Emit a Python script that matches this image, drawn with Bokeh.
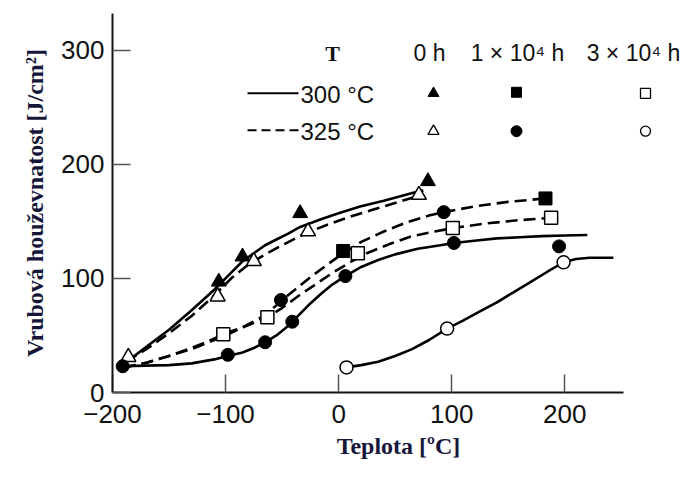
from bokeh.plotting import figure
from bokeh.models import Label, FixedTicker
from bokeh.embed import file_html
from bokeh.resources import INLINE

# ---------------- data ----------------
# fitted curves
curve_a_x = [-190, -170, -150, -130, -110, -95, -85, -75, -65, -55, -45, -34, -15, 0, 19, 40, 66, 75]
curve_a_y = [25, 40, 55, 72, 90, 105, 115, 122, 129, 134, 139, 145, 152, 157, 163, 168, 175, 177]
curve_b_x = [-188, -170, -150, -130, -110, -95, -80, -65, -50, -30, -10, 10, 30, 50, 70]
curve_b_y = [27, 38, 52, 67, 85, 100, 112, 121, 129, 139, 147, 154, 160, 166, 172]
curve_c_x = [-190, -170, -150, -130, -110, -100, -85, -70, -60, -51, -40, -25, -10, 4, 20, 40, 60, 80, 93, 120, 150, 183]
curve_c_y = [22, 26, 32, 38, 46, 50, 57, 65, 72, 80, 89, 101, 112, 122, 132, 141, 149, 155, 158, 163, 167, 170]
curve_d_x = [-190, -170, -150, -130, -115, -102, -85, -70, -63, -50, -35, -20, -5, 10, 25, 45, 65, 85, 101, 130, 160, 188]
curve_d_y = [22, 26, 32, 39, 45, 51, 57, 63, 66, 74, 85, 95, 105, 114, 122, 130, 137, 141, 144, 148, 151, 153]
curve_e_x = [-191, -170, -150, -130, -110, -98, -85, -75, -65, -55, -45, -35, -25, -15, -5, 6, 20, 35, 50, 70, 90, 102, 120, 140, 160, 180, 200, 220]
curve_e_y = [23, 23.5, 24, 25.5, 29, 32, 35, 39, 44, 50, 58, 68, 78, 87, 95, 102, 110, 116, 121, 126, 129, 131, 133, 135, 136, 137, 137.5, 138]
curve_f_x = [7, 20, 35, 50, 65, 80, 96, 110, 125, 140, 155, 170, 185, 199, 210, 222, 235, 243]
curve_f_y = [22, 24, 27, 32, 38, 46, 56, 63, 71, 79, 88, 97, 106, 114, 117, 118, 118, 118]

# measured points
tri_fill_x = [-106, -85, -34, 79]
tri_fill_y = [97, 119, 157, 185]
tri_open_x = [-186, -107, -75, -27, 71]
tri_open_y = [31, 84, 115, 141, 173]
sq_fill_x = [4, 183]
sq_fill_y = [124, 170]
sq_open_x = [-102, -63, 17, 101, 188]
sq_open_y = [51, 66, 122, 144, 153]
circ_fill_x = [-191, -98, -65, -41, 6, 102, 195, -51, 93]
circ_fill_y = [23, 33, 44, 62, 102, 131, 128, 81, 158]
circ_open_x = [7, 96, 199]
circ_open_y = [22, 56, 114]

x_ticks = [-200, -100, 0, 100, 200]
y_ticks = [0, 100, 200, 300]

legend_rows = ["300 \u00b0C", "325 \u00b0C"]
legend_cols = ["0 h", "1 \u00d7 10\u2074 h", "3 \u00d7 10\u2074 h"]

# ---------------- figure ----------------
W, H = 684, 461
FL, FT, FB = 112, 13, 393          # frame left / top / bottom (px)
AX_END = 623                       # end of the drawn x axis (px)
X0, XA = -200, 252                 # data x at frame left / at axis end
Y0, Y1 = 0, 332
KX = (AX_END - FL) / (XA - X0)     # px per data unit
X1 = X0 + (W - FL) / KX
p = figure(width=W, height=H, x_range=(X0, X1), y_range=(Y0, Y1),
           output_backend="svg", toolbar_location=None,
           min_border_left=FL, min_border_right=0,
           min_border_top=FT, min_border_bottom=H - FB)
p.outline_line_color = None
p.grid.visible = False
p.background_fill_color = "white"

def sx(px):  # picture px -> data x
    return X0 + (px - FL) / KX
def sy(py):
    return Y0 + (FB - py) / (FB - FT) * (Y1 - Y0)

for ax in (p.xaxis[0], p.yaxis[0]):
    ax.axis_line_width = 2
    ax.axis_line_color = "#111111"
    ax.major_tick_in = 18
    ax.major_tick_out = 0
    ax.major_tick_line_color = "#555555"
    ax.major_tick_line_width = 1.5
    ax.minor_tick_line_color = None
    ax.major_label_text_font = "Liberation Sans"
    ax.major_label_text_font_size = "26px"
    ax.major_label_text_color = "#111111"
    ax.axis_label_text_font = "Liberation Serif"
    ax.axis_label_text_font_style = "bold"
    ax.axis_label_text_color = "#16163a"

p.xaxis.bounds = (X0, XA)
p.xaxis.ticker = FixedTicker(ticks=x_ticks)
p.yaxis.ticker = FixedTicker(ticks=y_ticks)
p.xaxis.axis_label = "Teplota [\u00baC]"
p.yaxis.axis_label = "Vrubov\u00e1 hou\u017eevnatost [J/cm\u00b2]"
p.xaxis.axis_label_text_font_size = "24px"
p.yaxis.axis_label_text_font_size = "24px"
p.xaxis.major_label_standoff = 12
p.yaxis.major_label_standoff = 8
p.xaxis.axis_label_standoff = 7
p.yaxis.axis_label_standoff = 10

LW = 2.6
DASH = "12 6"
p.line(curve_a_x, curve_a_y, line_width=LW, color="black")
p.line(curve_b_x, curve_b_y, line_width=LW, color="black", line_dash=DASH)
p.line(curve_c_x, curve_c_y, line_width=LW, color="black", line_dash=DASH)
p.line(curve_d_x, curve_d_y, line_width=LW, color="black", line_dash=DASH)
p.line(curve_e_x, curve_e_y, line_width=LW, color="black")
p.line(curve_f_x, curve_f_y, line_width=LW, color="black")

p.scatter(tri_fill_x, tri_fill_y, marker="triangle", size=15, fill_color="black", line_color="black")
p.scatter(tri_open_x, tri_open_y, marker="triangle", size=15, fill_color="white", line_color="black", line_width=1.5)
p.scatter(sq_fill_x, sq_fill_y, marker="square", size=13, fill_color="black", line_color="black")
p.scatter(sq_open_x, sq_open_y, marker="square", size=13, fill_color="white", line_color="black", line_width=1.5)
p.scatter(circ_fill_x, circ_fill_y, marker="circle", size=13, fill_color="black", line_color="black")
p.scatter(circ_open_x, circ_open_y, marker="circle", size=13, fill_color="white", line_color="black", line_width=1.5)

# ---------------- legend table ----------------
p.add_layout(Label(x=sx(332), y=sy(53), text="T", text_font="Liberation Serif",
                   text_font_style="bold", text_font_size="22px", text_align="center",
                   text_baseline="middle", text_color="#111111"))
for cx, t in zip([429, 517, 633], legend_cols):
    p.add_layout(Label(x=sx(cx), y=sy(53), text=t, text_font="Liberation Sans",
                       text_font_size="23px", text_align="center", text_baseline="middle",
                       text_color="#111111"))
for ry, t in zip([94, 131], legend_rows):
    p.add_layout(Label(x=sx(300), y=sy(ry), text=t, text_font="Liberation Sans",
                       text_font_size="24px", text_align="left", text_baseline="middle",
                       text_color="#111111"))
p.line([sx(247), sx(298)], [sy(93), sy(93)], line_width=2, color="black")
p.line([sx(247), sx(298)], [sy(130), sy(130)], line_width=2, color="black", line_dash="9 5")
p.scatter([sx(433)], [sy(93)], marker="triangle", size=11, fill_color="black", line_color="black")
p.scatter([sx(516)], [sy(92)], marker="square", size=10, fill_color="black", line_color="black")
p.scatter([sx(645)], [sy(93)], marker="square", size=10, fill_color="white", line_color="black", line_width=1.3)
p.scatter([sx(433)], [sy(131)], marker="triangle", size=11, fill_color="white", line_color="black", line_width=1.3)
p.scatter([sx(516)], [sy(131)], marker="circle", size=11, fill_color="black", line_color="black")
p.scatter([sx(645)], [sy(131)], marker="circle", size=10, fill_color="white", line_color="black", line_width=1.3)

open("out.html", "w").write(file_html(p, INLINE))
